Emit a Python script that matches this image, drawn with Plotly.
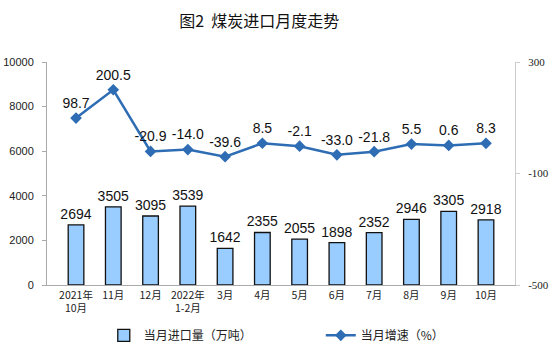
import plotly.graph_objects as go

categories = ["2021年<br>10月", "11月", "12月", "2022年<br>1-2月", "3月", "4月", "5月", "6月", "7月", "8月", "9月", "10月"]
imports = [2694, 3505, 3095, 3539, 1642, 2355, 2055, 1898, 2352, 2946, 3305, 2918]
growth = [98.7, 200.5, -20.9, -14.0, -39.6, 8.5, -2.1, -33.0, -21.8, 5.5, 0.6, 8.3]
growth_labels = ["98.7", "200.5", "-20.9", "-14.0", "-39.6", "8.5", "-2.1", "-33.0", "-21.8", "5.5", "0.6", "8.3"]
left_ticks = [0, 2000, 4000, 6000, 8000, 10000]
right_ticks = [300, -100, -500]
right_tick_labels = ["300", "-100", "-500"]

num_font = "Liberation Sans, Arial, sans-serif"
cjk_font = "Noto Sans CJK SC, sans-serif"

fig = go.Figure()
fig.add_trace(go.Bar(
    x=categories, y=imports, name="当月进口量（万吨）",
    marker=dict(color="#99CCFF", line=dict(color="#111111", width=1.3)),
    width=0.42,
    text=[str(v) for v in imports], textposition="outside",
    constraintext="none",
    textfont=dict(family=num_font, size=14, color="#111111"),
    cliponaxis=False,
))
fig.add_trace(go.Scatter(
    x=categories, y=growth, name="当月增速（%）", yaxis="y2",
    mode="lines+markers+text",
    line=dict(color="#2E6DB4", width=2.5),
    marker=dict(symbol="diamond", size=9, color="#2E6DB4"),
    text=growth_labels, textposition="top center",
    textfont=dict(family=num_font, size=14, color="#111111"),
    cliponaxis=False,
))

fig.update_layout(
    width=554, height=353,
    margin=dict(l=47, r=39, t=62, b=68, autoexpand=False),
    paper_bgcolor="white", plot_bgcolor="white",
    title=dict(text="图2  煤炭进口月度走势", x=0.468, xanchor="center", y=0.94, yanchor="middle",
               font=dict(family=cjk_font, size=16, color="#111111")),
    showlegend=True,
    legend=dict(orientation="h", x=0.585, xanchor="center", y=0.05, yanchor="middle", yref="container",
                font=dict(family=cjk_font, size=12, color="#222222"),
                itemwidth=30, entrywidth=172, entrywidthmode="pixels"),
    xaxis=dict(
        showline=True, linecolor="#AAAAAA", linewidth=1,
        ticks="", tickfont=dict(family=cjk_font, size=10.5, color="#222222"),
        showgrid=False,
    ),
    yaxis=dict(
        range=[0, 10000], tickvals=left_ticks, ticktext=[str(v) for v in left_ticks], showgrid=False,
        showline=True, linecolor="#AAAAAA", linewidth=1,
        ticks="outside", ticklen=4, tickcolor="#AAAAAA",
        tickfont=dict(family=num_font, size=11, color="#222222"),
        ticklabelstandoff=6,
    ),
    yaxis2=dict(
        range=[-500, 300], tickvals=right_ticks, ticktext=right_tick_labels, overlaying="y", side="right",
        showgrid=False, zeroline=False,
        showline=True, linecolor="#CCCCCC", linewidth=1,
        ticks="outside", ticklen=4, tickcolor="#CCCCCC",
        tickfont=dict(family="Liberation Serif, Times New Roman, serif", size=11, color="#222222"),
        ticklabelstandoff=6,
    ),
)

fig.write_html("out.html")
